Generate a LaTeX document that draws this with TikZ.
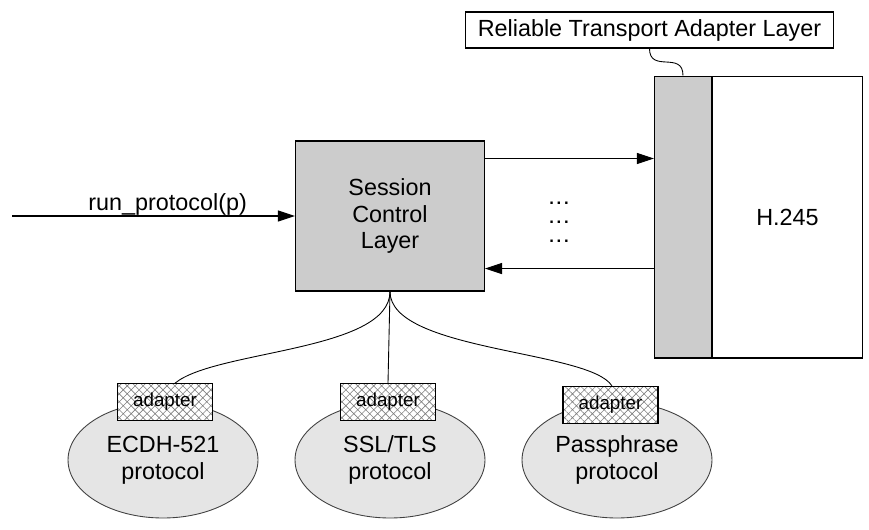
\documentclass[tikz,border=0pt]{standalone}
\usepackage{fontspec}
\setmainfont{Liberation Sans}
\usetikzlibrary{arrows.meta,patterns.meta,shapes.geometric}

\tikzset{
  bigtext/.style={font=\fontsize{13.3}{15.3}\selectfont},
  layer/.style={draw, fill=black!20, line width=0.6pt, inner sep=0pt},
  plainbox/.style={draw, fill=white, line width=0.6pt, inner sep=0pt},
  adapterbox/.style={draw, line width=0.6pt, preaction={fill=white},
    pattern={Hatch[angle=45,distance=3.2pt,line width=0.35pt]}, pattern color=black!50,
    minimum width=1.9cm, minimum height=0.74cm, inner sep=0pt,
    font=\fontsize{10.7}{12}\selectfont},
  proto/.style={ellipse, draw=black!75, fill=black!10, line width=0.5pt,
    minimum width=3.8cm, minimum height=2.32cm, inner sep=0pt, align=center, bigtext},
  msg/.style={line width=0.6pt, -{Triangle[length=0.34cm,width=0.22cm]}},
  link/.style={line width=0.5pt},
}

\begin{document}
\begin{tikzpicture}[x=0.02cm, y=-0.02cm, bigtext]
\useasboundingbox (0,0) rectangle (869,529);

\node[layer, minimum width=3.78cm, minimum height=3cm, align=center] (session) at (390,216) {Session\\Control\\Layer};

\node[layer, minimum width=1.14cm, minimum height=5.64cm] (strip) at (683,217) {};
\node[plainbox, minimum width=3cm, minimum height=5.64cm, anchor=west] (h245) at (strip.east) {H.245};
\node[plainbox, minimum width=7.38cm, minimum height=0.72cm] (relabel) at (649.5,30) {Reliable Transport Adapter Layer};
\draw[link] (relabel.south) .. controls +(0,25) and +(0,-25) .. (strip.north);

\node[proto] (ecdh) at (163,460) {ECDH-521\\protocol};
\node[proto] (ssl) at (390,460) {SSL/TLS\\protocol};
\node[proto] (pass) at (617,460) {Passphrase\\protocol};

\node[adapterbox] (ecdhad) at (165,402) {adapter};
\node[adapterbox] (sslad) at (388,402) {adapter};
\node[adapterbox] (passad) at (610.5,405) {adapter};

\path (12,216) coordinate (start);
\draw[msg] (start) -- (session.west) node[anchor=base, pos=0.55, yshift=2.9pt] {run\_protocol(p)};

\path ([yshift=-0.36cm]session.north east) coordinate (outa);
\path ([yshift=0.46cm]session.south east) coordinate (inb);
\draw[msg] (outa) -- (outa -| strip.west);
\draw[msg] (inb -| strip.west) -- (inb);

\node[align=center, inner sep=0pt, font=\fontsize{9.5}{10.8}\selectfont\bfseries] (dots) at (559,222) {.\,.\,.\\.\,.\,.\\.\,.\,.};

\path ([xshift=0.2cm]ecdhad.north) coordinate (ecdhin);
\path ([xshift=0.03cm]passad.north) coordinate (passin);
\draw[link] (session.south) .. controls +(0,60) and (215,350) .. (ecdhin);
\draw[link] (session.south) -- (sslad.north);
\draw[link] (session.south) .. controls +(0,60) and (590,350) .. (passin);
\end{tikzpicture}
\end{document}
